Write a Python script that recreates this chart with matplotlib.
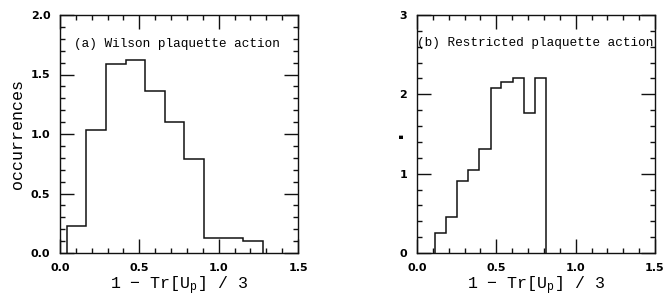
import matplotlib
matplotlib.use("Agg")
import matplotlib.pyplot as plt
from matplotlib.ticker import MultipleLocator

plt.rcParams['mathtext.fontset'] = 'custom'
plt.rcParams['mathtext.rm'] = 'Liberation Mono'
plt.rcParams['mathtext.it'] = 'Liberation Mono'

# Panel (a): Wilson plaquette action
edges_a = [0.042, 0.167, 0.290, 0.415, 0.537, 0.659, 0.784, 0.908, 1.033, 1.156, 1.281]
vals_a = [0.23, 1.03, 1.59, 1.62, 1.36, 1.10, 0.79, 0.13, 0.13, 0.10]

# Panel (b): Restricted plaquette action
edges_b = [0.115, 0.184, 0.255, 0.323, 0.392, 0.464, 0.531, 0.604, 0.673, 0.743, 0.811]
vals_b = [0.25, 0.45, 0.91, 1.04, 1.31, 2.08, 2.15, 2.21, 1.76, 2.21]

xlabel = "1 − Tr[U$_\\mathrm{p}$] / 3"
xticks = [0.0, 0.5, 1.0, 1.5]
xticklabels = ["0.0", "0.5", "1.0", "1.5"]

fig = plt.figure(figsize=(6.64, 3.01), dpi=100)
axa = fig.add_axes([60/664, 48/301, 238/664, 238/301])
axb = fig.add_axes([417/664, 48/301, 238/664, 238/301])

lc = '#111111'
for ax in (axa, axb):
    ax.set_xlim(0, 1.5)
    ax.set_xticks(xticks)
    ax.set_xticklabels(xticklabels)
    ax.xaxis.set_minor_locator(MultipleLocator(0.1))
    ax.tick_params(which='both', direction='in', top=True, right=True, color=lc, width=1.0)
    ax.tick_params(which='major', length=10, labelsize=8, pad=7)
    ax.tick_params(which='minor', length=3.5)
    for s in ax.spines.values():
        s.set_linewidth(1.0)
        s.set_color(lc)
    for lbl in ax.get_xticklabels() + ax.get_yticklabels():
        lbl.set_fontweight('bold')
    ax.set_xlabel(xlabel, family='Liberation Mono', fontsize=12, labelpad=1)

axa.stairs(vals_a, edges_a, color=lc, linewidth=1.1)
axa.set_ylim(0, 2.0)
axa.set_yticks([0.0, 0.5, 1.0, 1.5, 2.0])
axa.set_yticklabels(["0.0", "0.5", "1.0", "1.5", "2.0"], fontweight='bold')
axa.yaxis.set_minor_locator(MultipleLocator(0.1))
axa.set_ylabel("occurrences", family='Liberation Mono', fontsize=12)
axa.yaxis.set_label_coords(-0.145, 0.5)
axa.text(0.088, 1.76, "(a) Wilson plaquette action", family='Liberation Mono',
         fontsize=9.2, va='center', ha='left')

axb.stairs(vals_b, edges_b, color=lc, linewidth=1.1)
axb.set_ylim(0, 3)
axb.set_yticks([0, 1, 2, 3])
axb.set_yticklabels(["0", "1", "2", "3"], fontweight='bold')
axb.yaxis.set_minor_locator(MultipleLocator(0.2))
axb.set_ylabel(".", fontsize=14, fontweight='bold')
axb.yaxis.set_label_coords(-0.045, 0.5)
axb.text(0.0, 2.645, "(b) Restricted plaquette action", family='Liberation Mono',
         fontsize=9.2, va='center', ha='left')

fig.savefig("out.png", dpi=100)
